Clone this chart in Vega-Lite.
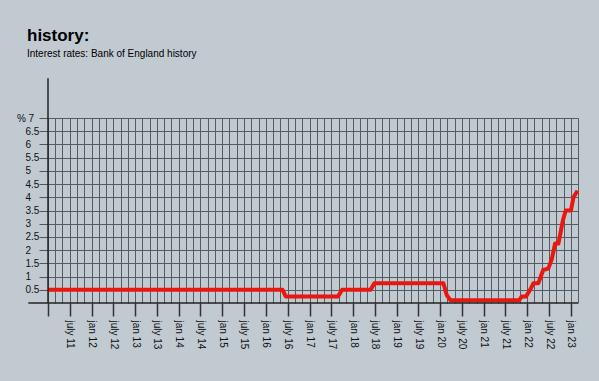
{
  "$schema": "https://vega.github.io/schema/vega-lite/v6.json",
  "autosize": {"type": "none"},
  "width": 530,
  "height": 185,
  "padding": {"left": 48, "top": 118, "right": 21, "bottom": 78},
  "background": "#c1c9d1",
  "config": {
    "view": {"stroke": null},
    "font": "Liberation Sans"
  },
  "title": {
    "text": "history:",
    "subtitle": "Interest rates: Bank of England history",
    "anchor": "start",
    "frame": "group",
    "dx": -21,
    "fontSize": 17,
    "fontWeight": "bold",
    "font": "Liberation Sans",
    "color": "#000000",
    "subtitleFontSize": 10,
    "subtitleFont": "Liberation Sans",
    "subtitleColor": "#000000",
    "subtitlePadding": 4,
    "offset": 18
  },
  "datasets": {
    "rates": [
      {"date": "2011-01-01T00:00:00", "rate": 0.5},
      {"date": "2016-05-20T00:00:00", "rate": 0.5},
      {"date": "2016-06-15T00:00:00", "rate": 0.25},
      {"date": "2017-08-28T00:00:00", "rate": 0.25},
      {"date": "2017-10-01T00:00:00", "rate": 0.5},
      {"date": "2018-05-28T00:00:00", "rate": 0.5},
      {"date": "2018-06-28T00:00:00", "rate": 0.75},
      {"date": "2020-01-28T00:00:00", "rate": 0.75},
      {"date": "2020-02-25T00:00:00", "rate": 0.3},
      {"date": "2020-03-28T00:00:00", "rate": 0.1},
      {"date": "2021-10-23T00:00:00", "rate": 0.1},
      {"date": "2021-11-15T00:00:00", "rate": 0.25},
      {"date": "2021-12-21T00:00:00", "rate": 0.25},
      {"date": "2022-01-24T00:00:00", "rate": 0.5},
      {"date": "2022-02-21T00:00:00", "rate": 0.75},
      {"date": "2022-04-03T00:00:00", "rate": 0.75},
      {"date": "2022-05-13T00:00:00", "rate": 1.25},
      {"date": "2022-06-25T00:00:00", "rate": 1.3},
      {"date": "2022-07-24T00:00:00", "rate": 1.65},
      {"date": "2022-08-21T00:00:00", "rate": 2.25},
      {"date": "2022-09-18T00:00:00", "rate": 2.25},
      {"date": "2022-10-24T00:00:00", "rate": 3.1},
      {"date": "2022-11-18T00:00:00", "rate": 3.5},
      {"date": "2023-01-01T00:00:00", "rate": 3.5},
      {"date": "2023-01-22T00:00:00", "rate": 4.0},
      {"date": "2023-02-25T00:00:00", "rate": 4.25}
    ],
    "vaxis": [
      {"date": "2011-01-01T00:00:00", "y0": 0, "y1": 8.5}
    ],
    "haxis": [
      {"start": "2010-07-20T00:00:00", "end": "2023-03-01T00:00:00", "y": 0}
    ]
  },
  "layer": [
    {
      "data": {"name": "rates"},
      "mark": {"type": "line", "color": "#e8170f", "strokeWidth": 4, "strokeJoin": "round", "clip": false},
      "encoding": {
        "x": {
          "field": "date",
          "type": "temporal",
          "scale": {"domain": [{"year": 2011, "month": 1, "date": 1}, {"year": 2023, "month": 3, "date": 1}], "nice": false},
          "title": null,
          "axis": {
            "tickCount": {"interval": "month", "step": 2},
            "grid": true,
            "gridColor": "#565c63",
            "gridWidth": 1,
            "gridOpacity": 1,
            "domain": false,
            "ticks": true,
            "tickSize": 13,
            "tickWidth": 1.5,
            "tickColor": {"condition": {"test": "month(datum.value) % 6 == 0", "value": "#333333"}, "value": "transparent"},
            "labelAngle": 90,
            "labelAlign": "left",
            "labelBaseline": "middle",
            "labelPadding": 4,
            "labelFontSize": 10,
            "labelColor": "#111111",
            "labelFont": "Liberation Sans",
            "labelOverlap": false,
            "labelExpr": "(month(datum.value) == 0 && year(datum.value) > 2011) ? 'jan ' + timeFormat(datum.value, '%y') : (month(datum.value) == 6 ? 'july ' + timeFormat(datum.value, '%y') : '')"
          }
        },
        "y": {
          "field": "rate",
          "type": "quantitative",
          "scale": {"domain": [0, 7], "nice": false, "zero": false},
          "title": null,
          "axis": {
            "values": [0.5, 1, 1.5, 2, 2.5, 3, 3.5, 4, 4.5, 5, 5.5, 6, 6.5, 7],
            "tickCount": 30,
            "grid": true,
            "gridColor": "#565c63",
            "gridWidth": 1,
            "gridOpacity": 1,
            "domain": false,
            "tickSize": 9,
            "tickColor": "#555555",
            "tickWidth": 1,
            "labelPadding": 14,
            "labelAlign": {"condition": {"test": "datum.value == 7", "value": "center"}, "value": "left"},
            "labelBaseline": "middle",
            "labelFontSize": 10,
            "labelColor": "#111111",
            "labelFont": "Liberation Sans",
            "labelOverlap": false,
            "labelExpr": "datum.value == 7 ? '% 7' : '' + datum.value"
          }
        }
      }
    },
    {
      "data": {"name": "vaxis"},
      "mark": {"type": "rule", "color": "#222222", "strokeWidth": 1.5, "clip": false},
      "encoding": {
        "x": {"field": "date", "type": "temporal", "title": null},
        "y": {"field": "y0", "type": "quantitative", "title": null},
        "y2": {"field": "y1"}
      }
    },
    {
      "data": {"name": "haxis"},
      "mark": {"type": "rule", "color": "#222222", "strokeWidth": 1.5, "clip": false},
      "encoding": {
        "x": {"field": "start", "type": "temporal", "title": null},
        "x2": {"field": "end"},
        "y": {"field": "y", "type": "quantitative", "title": null}
      }
    }
  ]
}
